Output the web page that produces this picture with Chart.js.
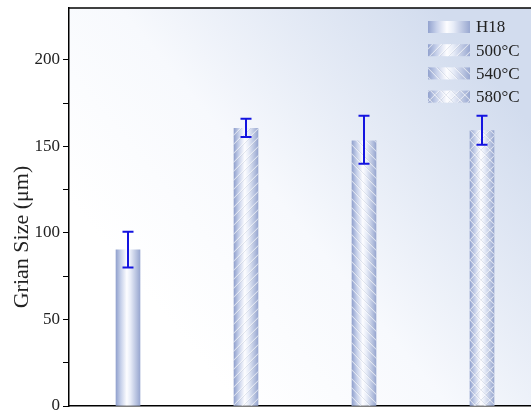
<!DOCTYPE html>
<html>
<head>
<meta charset="utf-8">
<script src="https://cdn.jsdelivr.net/npm/chart.js@4"></script>
<style>
	html, body { margin: 0; padding: 0; background: #fff; overflow: hidden; }
	#wrap { width: 545px; height: 410px; position: relative; }
</style>
</head>
<body>
<div id="wrap"><canvas id="chart"></canvas></div>
<script>
const categories = ['H18', '500°C', '540°C', '580°C'];
const grainSize = [90.2, 160.5, 153.3, 159.1];
const errLow = [80, 155.5, 140, 151];
const errHigh = [100.7, 166, 167.8, 167.8];
const patterns = ['none', 'right', 'left', 'cross'];
const yTitle = 'Grian Size (μm)';

const SERIF = '"Liberation Serif", "Times New Roman", serif';

// pattern tiles
function makePattern(ctx, kind) {
	if (kind === 'none') return 'rgba(0,0,0,0)';
	const s = kind === 'cross' ? 10 : 9;
	const c = document.createElement('canvas');
	c.width = s; c.height = s;
	const p = c.getContext('2d');
	const line = (x1, y1, x2, y2) => {
		p.strokeStyle = 'rgba(120,132,170,0.22)';
		p.lineWidth = 1;
		p.beginPath(); p.moveTo(x1 + 1, y1); p.lineTo(x2 + 1, y2); p.stroke();
		p.strokeStyle = 'rgba(255,255,255,0.6)';
		p.lineWidth = 1.1;
		p.beginPath(); p.moveTo(x1, y1); p.lineTo(x2, y2); p.stroke();
	};
	if (kind === 'right' || kind === 'cross') {
		line(-1, s + 1, s + 1, -1);
		line(-1, 1, 1, -1);
		line(s - 1, s + 1, s + 1, s - 1);
	}
	if (kind === 'left' || kind === 'cross') {
		line(-1, -1, s + 1, s + 1);
		line(s - 1, -1, s + 1, 1);
		line(-1, s - 1, 1, s + 1);
	}
	return ctx.createPattern(c, 'repeat');
}

function barGradient(ctx, x, w) {
	const g = ctx.createLinearGradient(x - w / 2, 0, x + w / 2, 0);
	g.addColorStop(0, 'rgb(146,162,206)');
	g.addColorStop(0.2, 'rgb(198,208,234)');
	g.addColorStop(0.45, 'rgb(253,253,255)');
	g.addColorStop(0.6, 'rgb(232,237,248)');
	g.addColorStop(1, 'rgb(152,167,208)');
	return g;
}

const BAR_W = 24;

const bgPlugin = {
	id: 'bgPlugin',
	beforeDraw(chart) {
		const {ctx, chartArea: a} = chart;
		ctx.save();
		const g = ctx.createLinearGradient(a.left + 120, a.bottom - 60, a.right - 40, a.top + 80);
		g.addColorStop(0, 'rgba(255,255,255,1)');
		g.addColorStop(0.4, 'rgba(247,249,253,1)');
		g.addColorStop(1, 'rgba(210,220,238,1)');
		ctx.fillStyle = g;
		ctx.fillRect(a.left, a.top, a.right - a.left, a.bottom - a.top);
		ctx.restore();
	},
	afterDraw(chart) {
		const {ctx, chartArea: a} = chart;
		ctx.save();
		ctx.strokeStyle = '#000';
		ctx.lineWidth = 1.5;
		ctx.beginPath();
		ctx.moveTo(a.left, a.top);
		ctx.lineTo(a.right + 10, a.top);
		ctx.stroke();
		// y axis title
		ctx.translate(22, 237);
		ctx.rotate(-Math.PI / 2);
		ctx.font = '22px ' + SERIF;
		ctx.fillStyle = '#222';
		ctx.textAlign = 'center';
		ctx.textBaseline = 'middle';
		ctx.fillText(yTitle, 0, 0);
		ctx.restore();
	}
};

const errorBars = {
	id: 'errorBars',
	afterDatasetsDraw(chart) {
		const {ctx, scales: {x, y}} = chart;
		ctx.save();
		ctx.strokeStyle = '#1414e0';
		ctx.lineWidth = 2;
		grainSize.forEach((v, i) => {
			const px = x.getPixelForValue(i);
			const lo = y.getPixelForValue(errLow[i]);
			const hi = y.getPixelForValue(errHigh[i]);
			ctx.beginPath();
			ctx.moveTo(px, lo); ctx.lineTo(px, hi);
			ctx.moveTo(px - 5.5, lo); ctx.lineTo(px + 5.5, lo);
			ctx.moveTo(px - 5.5, hi); ctx.lineTo(px + 5.5, hi);
			ctx.stroke();
		});
		ctx.restore();
	}
};

const legendPlugin = {
	id: 'legendPlugin',
	afterDraw(chart) {
		const {ctx} = chart;
		ctx.save();
		ctx.font = '17px ' + SERIF;
		ctx.textBaseline = 'middle';
		categories.forEach((label, i) => {
			const yy = 27 + i * 23.2;
			const x0 = 428, w = 42, h = 12;
			ctx.fillStyle = barGradient(ctx, x0 + w / 2, w);
			ctx.fillRect(x0, yy - h / 2, w, h);
			ctx.fillStyle = makePattern(ctx, patterns[i]);
			ctx.fillRect(x0, yy - h / 2, w, h);
			ctx.fillStyle = '#222';
			ctx.fillText(label, 476, yy + 1);
		});
		ctx.restore();
	}
};

const canvas = document.getElementById('chart');
const c2d = canvas.getContext('2d');
const patternFills = patterns.map(k => makePattern(c2d, k));

const data = {
	labels: categories,
	datasets: [
		{
			label: 'pattern',
			data: grainSize,
			grouped: false,
			order: 1,
			barThickness: BAR_W,
			backgroundColor: patternFills,
			borderWidth: 0
		},
		{
			label: 'Grain size',
			data: grainSize,
			grouped: false,
			order: 2,
			barThickness: BAR_W,
			backgroundColor: (context) => {
				const chart = context.chart;
				if (!chart.chartArea || context.dataIndex === undefined) return 'rgb(180,192,224)';
				const px = chart.scales.x.getPixelForValue(context.dataIndex);
				return barGradient(chart.ctx, px, BAR_W);
			},
			borderWidth: 0
		}
	]
};

const config = {
	type: 'bar',
	data: data,
	options: {
		responsive: true,
		maintainAspectRatio: false,
		animation: false,
		layout: { padding: { top: 8, right: 4, bottom: 4, left: 0 } },
		plugins: {
			legend: { display: false },
			tooltip: { enabled: false }
		},
		scales: {
			x: {
				ticks: { display: false },
				grid: { display: false, drawTicks: false },
				border: { display: true, color: '#000', width: 1.5 },
				afterFit: (scale) => { scale.height = 0; scale.paddingLeft = 0; scale.paddingRight = 0; }
			},
			y: {
				min: 0,
				max: 230,
				afterBuildTicks: (scale) => {
					scale.ticks = scale.ticks.filter(t => t.value % 25 === 0);
				},
				afterFit: (scale) => { scale.width = 69; scale.paddingTop = 0; scale.paddingBottom = 0; },
				ticks: {
					stepSize: 25,
					padding: 3,
					color: '#222',
					font: { family: SERIF, size: 17 },
					callback: (v) => (v % 50 === 0 ? v : '')
				},
				grid: {
					drawOnChartArea: false,
					drawTicks: true,
					tickLength: 6,
					tickColor: '#000',
					tickWidth: 1
				},
				border: { display: true, color: '#000', width: 1.5 },
				title: { display: false }
			}
		}
	},
	plugins: [bgPlugin, errorBars, legendPlugin]
};

const myChart = new Chart(canvas, config);
</script>
</body>
</html>
